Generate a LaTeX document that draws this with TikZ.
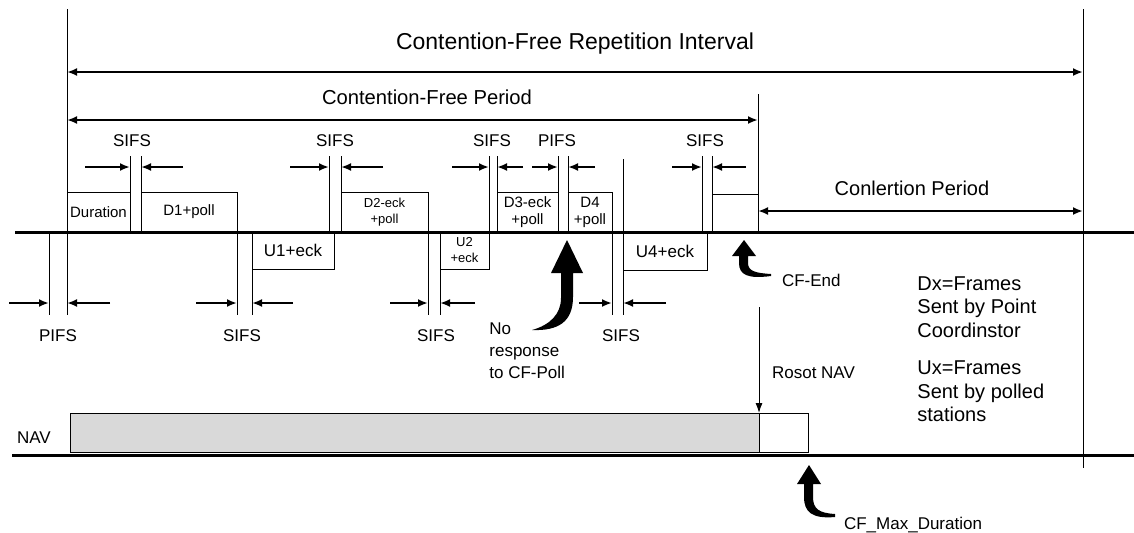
\documentclass[tikz,border=0pt]{standalone}
\usepackage{fontspec}
\setmainfont{Liberation Sans}
\usetikzlibrary{positioning, arrows.meta}
\tikzstyle{timeline} = [line width=1.5pt]
\tikzstyle{tick} = [line width=0.5pt]
\tikzstyle{arrow} = [line width=1pt, ->, >={Latex[length=5pt,width=4pt]}]
\tikzstyle{span} = [line width=1pt, <->, >={Latex[length=5pt,width=4pt]}]
\tikzstyle{thinarrow} = [line width=0.5pt, ->, >={Latex[length=5pt,width=3.5pt]}]
\tikzstyle{frame} = [rectangle, draw=black, line width=0.5pt, inner sep=0pt, outer sep=0pt, align=center]
\tikzstyle{gap} = [font=\fontsize{8.5}{11}\selectfont]
\tikzstyle{small} = [font=\fontsize{7.5}{8.5}\selectfont]
\tikzstyle{tiny} = [font=\fontsize{6.5}{8}\selectfont]
\tikzstyle{note} = [font=\fontsize{10}{11.75}\selectfont, align=left, inner sep=0pt]

\begin{document}
\begin{tikzpicture}[x=0.5pt, y=-0.5pt]
		\useasboundingbox (0,0) rectangle (1134,532);
		%titles and spans
		\node (cfri) [font=\fontsize{11.5}{14}\selectfont] at (575,44) {Contention-Free Repetition Interval};
		\node (cfp) [font=\fontsize{10.1}{12}\selectfont] at (427,97) {Contention-Free Period};
		\node (cp) [font=\fontsize{10}{12}\selectfont] at (912,188) {Conlertion Period};
		\coordinate (t0) at (67,9);
		\coordinate (tp) at (758,94);
		\coordinate (te) at (1083,9);
		\draw [tick] (t0) -- (67,315);
		\draw [tick] (te) -- (1083,468);
		\draw [tick] (tp) -- (758,232);
		\draw [span] (t0 |- 0,72) -- (te |- 0,72);
		\draw [span] (t0 |- 0,120) -- (tp |- 0,120);
		\draw [span] (tp |- 0,211) -- (te |- 0,211);
		
		%time lines
		\draw [timeline] (15,232) -- (1134,232);
		\draw [timeline] (12,455) -- (1134,455);
		
		%frames
		\node (dur) [frame, small, anchor=south west, minimum width=31.5pt, minimum height=20pt] at (67,232) {Duration};
		\node (d1) [frame, small, anchor=south west, minimum width=48pt, minimum height=20pt] at (141,232) {D1+poll};
		\node (d2) [frame, tiny, anchor=south west, minimum width=43.5pt, minimum height=20pt] at (341,232) {D2-eck\\+poll};
		\node (d3) [frame, small, anchor=south west, minimum width=30.5pt, minimum height=20pt] at (497,232) {D3-eck\\+poll};
		\node (d4) [frame, small, anchor=south west, minimum width=22pt, minimum height=20pt] at (568,232) {D4\\+poll};
		\node (cfe) [frame, anchor=south west, minimum width=23pt, minimum height=19pt] at (712,232) {};
		\node (u1) [frame, gap, anchor=north west, minimum width=41pt, minimum height=18.5pt] at (252,232) {U1+eck};
		\node (u2) [frame, tiny, anchor=north west, minimum width=24.5pt, minimum height=18.5pt] at (440,232) {U2\\+eck};
		\node (u4) [frame, gap, anchor=north west, minimum width=42pt, minimum height=19pt] at (623,232) {U4+eck};
		
		%gaps above
		\draw [tick] (130,156) -- (130,232);
		\draw [tick] (141,156) -- (141,232);
		\draw [tick] (329,156) -- (329,232);
		\draw [tick] (341,156) -- (341,232);
		\draw [tick] (489,156) -- (489,232);
		\draw [tick] (497,156) -- (497,232);
		\draw [tick] (558,156) -- (558,232);
		\draw [tick] (568,156) -- (568,232);
		\draw [tick] (702,156) -- (702,232);
		\draw [tick] (712,156) -- (712,232);
		\draw [tick] (623,159) -- (623,315);
		\draw [arrow] (85,167) -- (130,167);
		\draw [arrow] (183,167) -- (141,167);
		\draw [arrow] (290,167) -- (329,167);
		\draw [arrow] (383,167) -- (341,167);
		\draw [arrow] (452,167) -- (489,167);
		\draw [arrow] (523,167) -- (497,167);
		\draw [arrow] (532,167) -- (558,167);
		\draw [arrow] (595,167) -- (568,167);
		\draw [arrow] (672,167) -- (702,167);
		\draw [arrow] (746,167) -- (712,167);
		\node (s1) [gap] at (132,141) {SIFS};
		\node (s2) [gap] at (335,141) {SIFS};
		\node (s3) [gap] at (492,141) {SIFS};
		\node (p2) [gap] at (557,141) {PIFS};
		\node (s4) [gap] at (705,141) {SIFS};
		
		%gaps below
		\draw [tick] (49,232) -- (49,315);
		\draw [tick] (237,232) -- (237,315);
		\draw [tick] (252,232) -- (252,315);
		\draw [tick] (428,232) -- (428,315);
		\draw [tick] (440,232) -- (440,315);
		\draw [tick] (612,232) -- (612,315);
		\draw [arrow] (9,303) -- (49,303);
		\draw [arrow] (110,303) -- (67,303);
		\draw [arrow] (196,303) -- (237,303);
		\draw [arrow] (293,303) -- (252,303);
		\draw [arrow] (390,303) -- (428,303);
		\draw [arrow] (475,303) -- (440,303);
		\draw [arrow] (579,303) -- (612,303);
		\draw [arrow] (666,303) -- (623,303);
		\node (p1) [gap] at (58,336) {PIFS};
		\node (s5) [gap] at (242,336) {SIFS};
		\node (s6) [gap] at (436,336) {SIFS};
		\node (s7) [gap] at (621,336) {SIFS};
		
		%no response
		\fill (567,240) -- (583,273) -- (573,273) -- (573,297) .. controls (573,322) and (558,331) .. (532,330) .. controls (550,325) and (561,314) .. (561,298) -- (561,273) -- (551,273) -- cycle;
		\node (nr) [gap, align=left, anchor=north west, inner sep=0pt] at (489,322) {No\\response\\to CF-Poll};
		
		%cf end
		\fill (744,240) -- (756,256) -- (748,256) -- (748,263) .. controls (748,271) and (755,273) .. (771,274) -- (771,276) .. controls (748,279) and (739,275) .. (739,263) -- (739,256) -- (732,256) -- cycle;
		\node (cfend) [gap, anchor=west] at (775,280) {CF-End};
		
		%nav
		\node (nav) [gap, anchor=west] at (10,438) {NAV};
		\node (navbar) [frame, fill=black!15, anchor=south west, minimum width=344.5pt, minimum height=19.5pt] at (70,452) {};
		\node (navend) [frame, fill=white, anchor=south west, minimum width=24.5pt, minimum height=19.5pt] at (759,452) {};
		\coordinate (rst) at (759,307);
		\draw [thinarrow] (rst) -- (navend.north west);
		\node (rnav) [gap, anchor=west] at (765,373) {Rosot NAV};
		\fill (809,465) -- (821,484) -- (813,484) -- (813,497) .. controls (813,509) and (819,513) .. (835,514) -- (835,517) .. controls (812,519) and (804,512) .. (804,497) -- (804,484) -- (797,484) -- cycle;
		\node (cfmax) [gap, anchor=base west] at (837,529) {CF\_Max\_Duration};
		
		%legend
		\node (dx) [note, anchor=north west] at (917,276) {Dx=Frames\\Sent by Point\\Coordinstor};
		\node (ux) [note, below=11.5pt of dx.south west, anchor=north west] {Ux=Frames\\Sent by polled\\stations};
		
	\end{tikzpicture}
\end{document}
